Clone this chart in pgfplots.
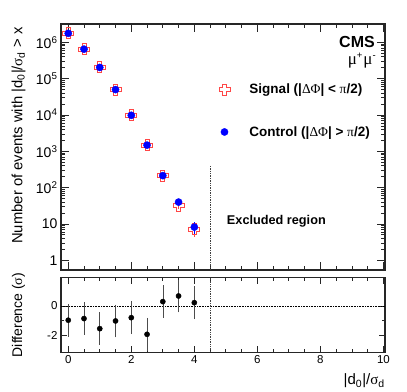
\documentclass[border=0pt]{standalone}
\usepackage{fontspec}
\setmainfont{Liberation Sans}
\newfontfamily\gr{Liberation Serif}
\usepackage{pgfplots}
\pgfplotsset{compat=1.18}

% ROOT style open cross
\pgfdeclareplotmark{ocross}{%
  \pgfpathmoveto{\pgfqpoint{-0.36\pgfplotmarksize}{\pgfplotmarksize}}%
  \pgfpathlineto{\pgfqpoint{0.36\pgfplotmarksize}{\pgfplotmarksize}}%
  \pgfpathlineto{\pgfqpoint{0.36\pgfplotmarksize}{0.36\pgfplotmarksize}}%
  \pgfpathlineto{\pgfqpoint{\pgfplotmarksize}{0.36\pgfplotmarksize}}%
  \pgfpathlineto{\pgfqpoint{\pgfplotmarksize}{-0.36\pgfplotmarksize}}%
  \pgfpathlineto{\pgfqpoint{0.36\pgfplotmarksize}{-0.36\pgfplotmarksize}}%
  \pgfpathlineto{\pgfqpoint{0.36\pgfplotmarksize}{-\pgfplotmarksize}}%
  \pgfpathlineto{\pgfqpoint{-0.36\pgfplotmarksize}{-\pgfplotmarksize}}%
  \pgfpathlineto{\pgfqpoint{-0.36\pgfplotmarksize}{-0.36\pgfplotmarksize}}%
  \pgfpathlineto{\pgfqpoint{-\pgfplotmarksize}{-0.36\pgfplotmarksize}}%
  \pgfpathlineto{\pgfqpoint{-\pgfplotmarksize}{0.36\pgfplotmarksize}}%
  \pgfpathlineto{\pgfqpoint{-0.36\pgfplotmarksize}{0.36\pgfplotmarksize}}%
  \pgfpathclose
  \pgfusepathqstroke}

\definecolor{sigred}{RGB}{255,70,70}
\newcommand{\sups}[1]{\raisebox{0.34em}{\fontsize{9.5}{11}\selectfont #1}}

\pgfplotsset{
  rootframe/.style={
    scale only axis,
    width=324pt,
    xmin=-0.23, xmax=10.05,
    xtick={0,2,...,10}, minor x tick num=3,
    tick align=inside,
    axis line style={line width=1.3pt, black!85},
    every tick/.style={line width=0.8pt, black!85},
    /pgf/number format/assume math mode=true,
    clip=true,
  },
  exclline/.style={line width=1.1pt, black!75, dash pattern=on 1.4pt off 1pt},
}

\begin{document}
\begin{tikzpicture}
\useasboundingbox (0,0) rectangle (407pt,391pt);

\begin{axis}[
  rootframe,
  at={(61pt,121pt)}, anchor=south west,
  height=246pt,
  ymode=log, ymin=0.54, ymax=3.2e6,
  xticklabels={},
  ytick={1,10,100,1000,10000,100000,1000000},
  yticklabels={1,10,10\textsuperscript{2},10\textsuperscript{3},10\textsuperscript{4},10\textsuperscript{5},10\textsuperscript{6}},
  major tick length=8pt, minor tick length=4.5pt,
  tick label style={font=\fontsize{14}{16}\selectfont},
  ylabel={Number of events with |d\textsubscript{0}|/{\gr σ}\textsubscript{d} > x},
  ylabel style={font=\fontsize{14.8}{17}\selectfont, at={(axis description cs:-0.131,1.0)}, anchor=east},
  legend style={draw=none, fill=none, font=\fontsize{13.5}{16}\bfseries,
    at={(axis description cs:0.4762,0.647)}, anchor=west, row sep=27pt},
  legend cell align=left,
  legend image code/.code={\path[draw=none] (0pt,0pt) -- (29pt,0pt);
    \draw[mark repeat=2,mark phase=2,#1] plot coordinates {(0pt,0pt) (6pt,0pt) (12pt,0pt)};},
]
\addplot[forget plot, exclline] coordinates {(4.5,400) (4.5,0.54)};

\addplot[only marks, mark=ocross, mark size=5.5pt, mark options={sigred, line width=0.9pt},
  error bars/.cd, y dir=both, y explicit, error mark=none, error bar style={sigred, line width=0.8pt}]
  coordinates {
  (0,1.77e6) +- (0,1330)
  (0.5,6.5e5) +- (0,806)
  (1,2.04e5) +- (0,452)
  (1.5,5.0e4) +- (0,224)
  (2,9.8e3) +- (0,99)
  (2.5,1.48e3) +- (0,38)
  (3,214) +- (0,14.6)
  (3.5,32) +- (0,5.7)
  (4,7.2) +- (0,2.7)
  };
\addlegendentry{Signal (|{\normalfont\gr ΔΦ}| < {\normalfont\gr π}/2)}

\addplot[only marks, mark=*, mark size=3.6pt, mark options={blue, draw=blue},
  error bars/.cd, y dir=both, y explicit, error mark=none, error bar style={blue, line width=0.8pt}]
  coordinates {
  (0,1.77e6) +- (0,1330)
  (0.5,6.5e5) +- (0,806)
  (1,2.04e5) +- (0,452)
  (1.5,5.0e4) +- (0,224)
  (2,9.8e3) +- (0,99)
  (2.5,1.48e3) +- (0,38)
  (3,214) +- (0,14.6)
  (3.5,40) +- (0,6.3)
  (4,8.2) +- (0,2.9)
  };
\addlegendentry{Control (|{\normalfont\gr ΔΦ}| > {\normalfont\gr π}/2)}

\node[anchor=base east, inner sep=0pt, font=\fontsize{13}{15}\selectfont] at (axis description cs:1.015,1.0204)
  {20.5 fb\textsuperscript{-1} (8 TeV)};
\node[anchor=base east, inner sep=0pt, font=\fontsize{16}{18}\bfseries] at (axis description cs:0.969,0.906) {CMS};
\node[anchor=base east, inner sep=0pt, font=\fontsize{17}{19}\selectfont] at (axis description cs:0.972,0.836)
  {{\gr μ}\sups{+}\kern1pt{\gr μ}\sups{-}};
\node[anchor=base, inner sep=0pt, font=\fontsize{12.7}{15}\bfseries] at (axis description cs:0.6648,0.186) {Excluded region};
\end{axis}

\begin{axis}[
  rootframe,
  at={(61pt,38.7pt)}, anchor=south west,
  height=74.6pt,
  ymin=-3.12, ymax=1.9,
  ytick={-2,0}, minor y tick num=1,
  major tick length=6pt, minor tick length=3.5pt,
  tick label style={font=\fontsize{11.5}{13}\selectfont},
  ylabel={Difference ({\gr σ})},
  ylabel style={font=\fontsize{14}{16}\selectfont, at={(axis description cs:-0.131,0.5)}, anchor=center},
  xlabel={|d\textsubscript{0}|/{\gr σ}\textsubscript{d}},
  xlabel style={font=\fontsize{15}{17}\selectfont, at={(axis description cs:1.0,-0.438)}, anchor=base east, inner sep=0pt},
]
\addplot[densely dotted, line width=0.6pt, black] coordinates {(-0.23,0) (10.05,0)};
\addplot[exclline] coordinates {(4.5,-3.12) (4.5,1.9)};
\addplot[only marks, mark=*, mark size=2.6pt, black,
  error bars/.cd, y dir=both, y explicit, error mark=-,
  error mark options={mark size=1.5pt, line width=0.6pt, black!70},
  error bar style={line width=0.6pt, black!70}]
  coordinates {
  (0,-0.96) +- (0,1)
  (0.5,-0.85) +- (0,1)
  (1,-1.53) +- (0,1)
  (1.5,-1.01) +- (0,1)
  (2,-0.79) +- (0,1)
  (2.5,-1.91) +- (0,1)
  (3,0.29) +- (0,1)
  (3.5,0.67) +- (0,1)
  (4,0.22) +- (0,1)
  };
\end{axis}
\end{tikzpicture}
\end{document}
